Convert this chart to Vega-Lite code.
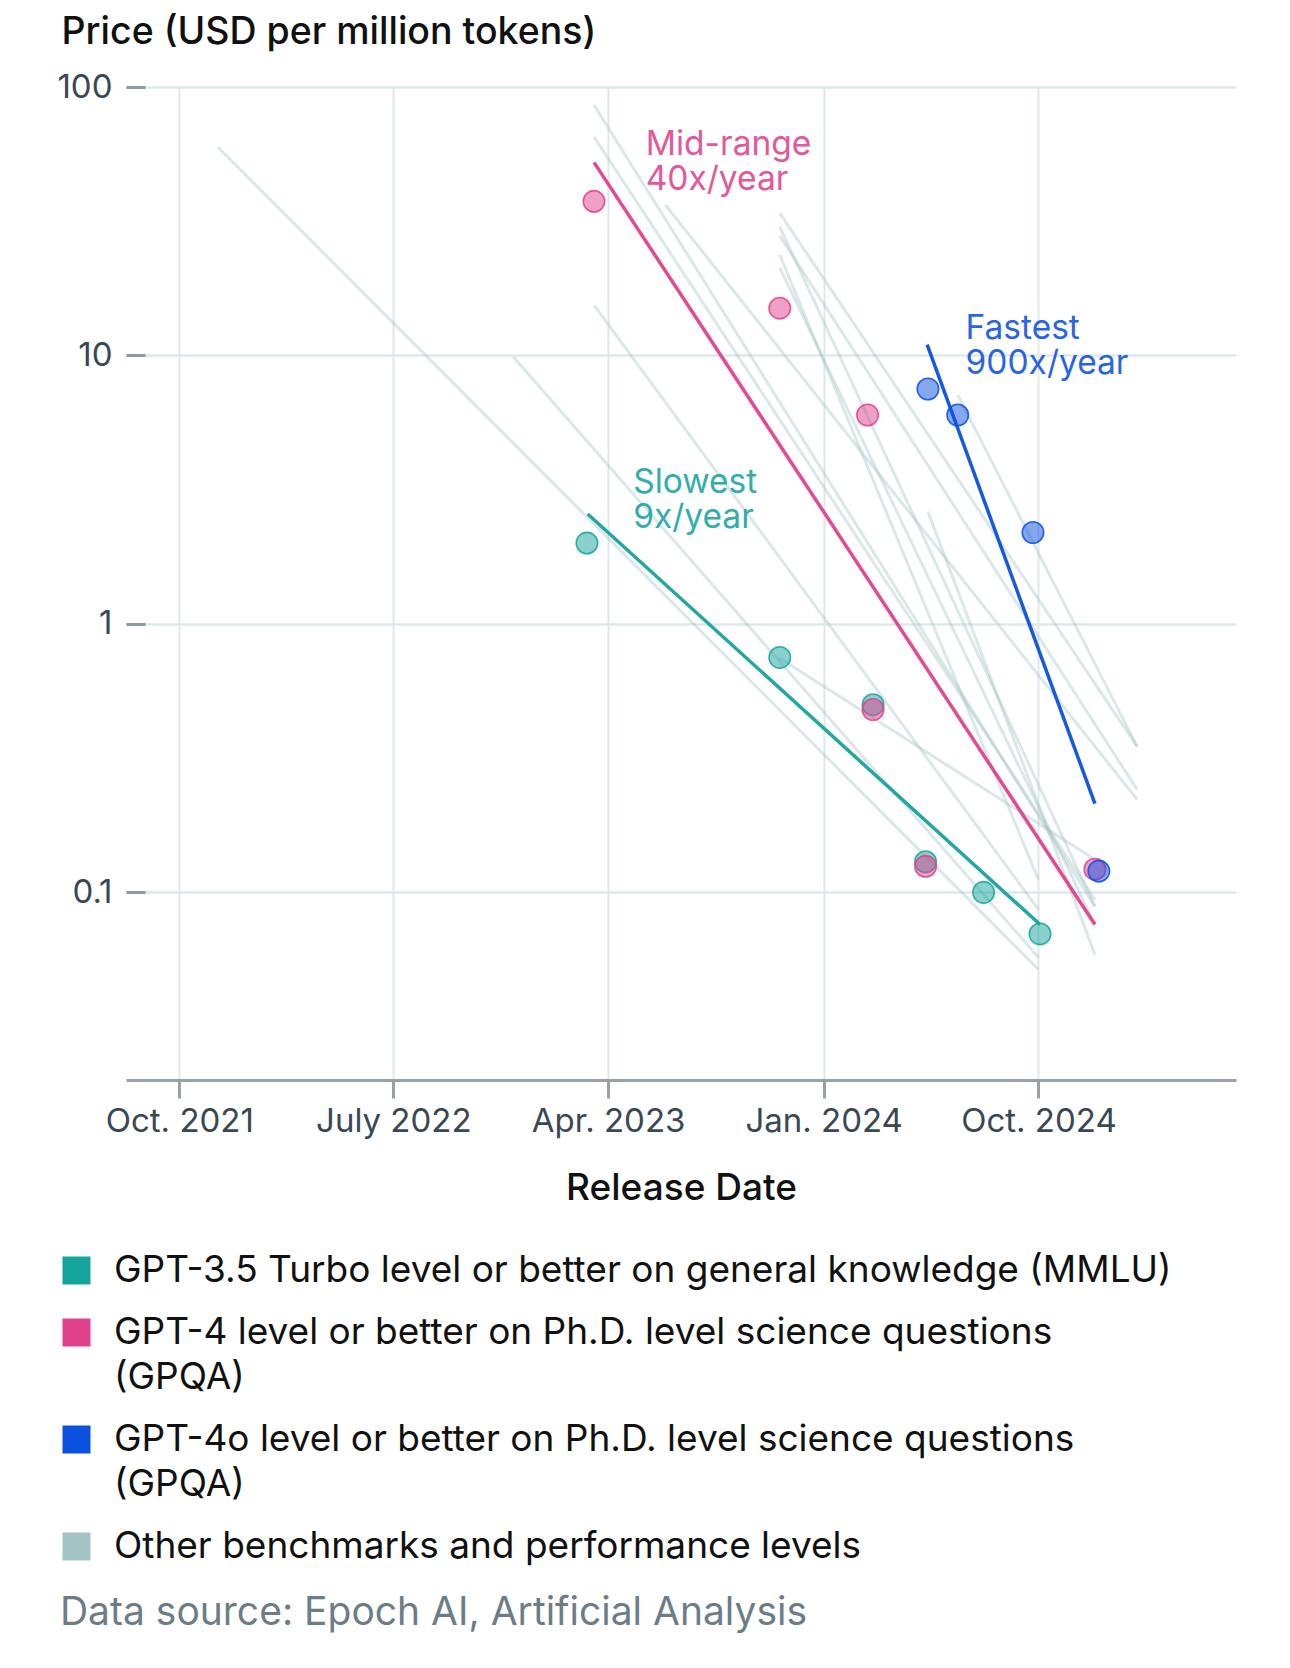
{
  "$schema": "https://vega.github.io/schema/vega-lite/v6.json",
  "width": 1110,
  "height": 993,
  "autosize": {"type": "none"},
  "padding": {"left": 126, "top": 87, "right": 54, "bottom": 588},
  "background": "white",
  "config": {"view": {"stroke": null}, "font": "Inter"},
  "title": {
    "text": "Data source: Epoch AI, Artificial Analysis",
    "orient": "bottom",
    "anchor": "start",
    "frame": "bounds",
    "font": "Inter",
    "fontSize": 39,
    "fontWeight": 400,
    "color": "#6d7d87",
    "offset": 29,
    "dx": 3
  },
  "datasets": {
    "lines": [
      {"id": "g1", "series": "other", "date": "2021-11-19", "price": 59.8},
      {"id": "g1", "series": "other", "date": "2024-10-01", "price": 0.0516},
      {"id": "g2", "series": "other", "date": "2022-12-01", "price": 9.88},
      {"id": "g2", "series": "other", "date": "2024-10-01", "price": 0.0572},
      {"id": "g3", "series": "other", "date": "2023-03-14", "price": 85.7},
      {"id": "g3", "series": "other", "date": "2024-12-12", "price": 0.0886},
      {"id": "g4", "series": "other", "date": "2023-03-14", "price": 65.2},
      {"id": "g4", "series": "other", "date": "2024-12-12", "price": 0.094},
      {"id": "g5", "series": "other", "date": "2023-03-14", "price": 15.4},
      {"id": "g5", "series": "other", "date": "2024-10-01", "price": 0.0863},
      {"id": "g6", "series": "other", "date": "2023-06-13", "price": 36.4},
      {"id": "g6", "series": "other", "date": "2025-02-04", "price": 0.2215},
      {"id": "g7", "series": "other", "date": "2023-11-06", "price": 33.9},
      {"id": "g7", "series": "other", "date": "2025-02-04", "price": 0.349},
      {"id": "g8", "series": "other", "date": "2023-11-06", "price": 27.9},
      {"id": "g8", "series": "other", "date": "2025-02-04", "price": 0.2414},
      {"id": "g9", "series": "other", "date": "2023-11-06", "price": 30.1},
      {"id": "g9", "series": "other", "date": "2024-12-12", "price": 0.0886},
      {"id": "g10", "series": "other", "date": "2023-11-06", "price": 23.7},
      {"id": "g10", "series": "other", "date": "2024-10-01", "price": 0.1116},
      {"id": "g11", "series": "other", "date": "2023-11-06", "price": 21.2},
      {"id": "g11", "series": "other", "date": "2024-12-12", "price": 0.0759},
      {"id": "g12", "series": "other", "date": "2024-05-13", "price": 2.62},
      {"id": "g12", "series": "other", "date": "2024-12-12", "price": 0.0587},
      {"id": "g13", "series": "other", "date": "2024-06-20", "price": 7.13},
      {"id": "g13", "series": "other", "date": "2025-02-04", "price": 0.349},
      {"id": "g14", "series": "other", "date": "2023-11-05", "price": 0.748},
      {"id": "g14", "series": "other", "date": "2024-12-12", "price": 0.1325},
      {"id": "t_mmlu", "series": "mmlu", "date": "2023-03-06", "price": 2.567},
      {"id": "t_mmlu", "series": "mmlu", "date": "2024-10-03", "price": 0.0759},
      {"id": "t_gpt4", "series": "gpt4", "date": "2023-03-14", "price": 52.4},
      {"id": "t_gpt4", "series": "gpt4", "date": "2024-12-12", "price": 0.0759},
      {"id": "t_gpt4o", "series": "gpt4o", "date": "2024-05-12", "price": 10.97},
      {"id": "t_gpt4o", "series": "gpt4o", "date": "2024-12-12", "price": 0.214}
    ],
    "points": [
      {"series": "mmlu", "date": "2023-03-05", "price": 2.0},
      {"series": "mmlu", "date": "2023-11-06", "price": 0.75},
      {"series": "mmlu", "date": "2024-03-04", "price": 0.5},
      {"series": "mmlu", "date": "2024-05-10", "price": 0.13},
      {"series": "mmlu", "date": "2024-07-23", "price": 0.1},
      {"series": "mmlu", "date": "2024-10-03", "price": 0.07},
      {"series": "gpt4", "date": "2023-03-14", "price": 37.5},
      {"series": "gpt4", "date": "2023-11-06", "price": 15.0},
      {"series": "gpt4", "date": "2024-02-26", "price": 6.0},
      {"series": "gpt4", "date": "2024-03-04", "price": 0.48},
      {"series": "gpt4", "date": "2024-05-10", "price": 0.125},
      {"series": "gpt4", "date": "2024-12-12", "price": 0.122},
      {"series": "gpt4o", "date": "2024-05-13", "price": 7.5},
      {"series": "gpt4o", "date": "2024-06-20", "price": 6.0},
      {"series": "gpt4o", "date": "2024-09-24", "price": 2.19},
      {"series": "gpt4o", "date": "2024-12-17", "price": 0.12}
    ],
    "labels": [
      {"series": "gpt4", "date": "2023-05-19", "price": 55.6, "text": "Mid-range"},
      {"series": "gpt4", "date": "2023-05-19", "price": 41.3, "text": "40x/year"},
      {"series": "mmlu", "date": "2023-05-03", "price": 3.07, "text": "Slowest"},
      {"series": "mmlu", "date": "2023-05-03", "price": 2.275, "text": "9x/year"},
      {"series": "gpt4o", "date": "2024-06-30", "price": 11.54, "text": "Fastest"},
      {"series": "gpt4o", "date": "2024-06-30", "price": 8.54, "text": "900x/year"}
    ]
  },
  "encoding": {
    "x": {
      "field": "date",
      "type": "temporal",
      "scale": {
        "type": "utc",
        "domain": [
          {"year": 2021, "month": 7, "date": 25, "utc": true},
          {"year": 2025, "month": 6, "date": 10, "utc": true}
        ]
      },
      "axis": {
        "values": [
          {"year": 2021, "month": 10, "date": 1, "utc": true},
          {"year": 2022, "month": 7, "date": 1, "utc": true},
          {"year": 2023, "month": 4, "date": 1, "utc": true},
          {"year": 2024, "month": 1, "date": 1, "utc": true},
          {"year": 2024, "month": 10, "date": 1, "utc": true}
        ],
        "labelExpr": "['Jan.','Feb.','Mar.','Apr.','May','June','July','Aug.','Sept.','Oct.','Nov.','Dec.'][utcmonth(datum.value)] + ' ' + utcyear(datum.value)",
        "title": "Release Date",
        "titleFont": "Inter",
        "titleFontSize": 37,
        "titleFontWeight": 500,
        "titleColor": "#111111",
        "titleBaseline": "top",
        "titleY": 90,
        "domainColor": "#97a2a8",
        "domainWidth": 3,
        "tickColor": "#97a2a8",
        "tickWidth": 3,
        "tickSize": 18,
        "labelPadding": 7,
        "labelFont": "Inter",
        "labelFontSize": 33,
        "labelColor": "#3a4853",
        "labelFlush": false,
        "labelOverlap": false,
        "gridColor": "#dfe8ea",
        "gridWidth": 2
      }
    },
    "y": {
      "field": "price",
      "type": "quantitative",
      "scale": {"type": "log", "domain": [0.02, 100]},
      "axis": {
        "values": [0.1, 1, 10, 100],
        "format": "~g",
        "title": "Price (USD per million tokens)",
        "titleAngle": 0,
        "titleAlign": "left",
        "titleBaseline": "alphabetic",
        "titleX": -65,
        "titleY": -44,
        "titleFont": "Inter",
        "titleFontSize": 37.5,
        "titleFontWeight": 500,
        "titleColor": "#111111",
        "domain": false,
        "tickSize": -19,
        "tickWidth": 3,
        "tickColor": "#8f9aa0",
        "labelPadding": 33,
        "labelFont": "Inter",
        "labelFontSize": 33,
        "labelColor": "#3a4853",
        "gridColor": "#dfe8ea",
        "gridWidth": 2.5
      }
    },
    "color": {
      "field": "series",
      "type": "nominal",
      "scale": {
        "domain": ["mmlu", "gpt4", "gpt4o", "other"],
        "range": ["#15a39e", "#e0418d", "#0b50df", "#a4c4c6"]
      },
      "legend": {
        "orient": "none",
        "legendX": -68,
        "legendY": 1165,
        "direction": "vertical",
        "title": null,
        "padding": 0,
        "symbolType": "square",
        "symbolSize": 784,
        "symbolStrokeWidth": 0,
        "symbolOpacity": 1,
        "labelFont": "Inter",
        "labelFontSize": 37,
        "labelColor": "#111111",
        "labelLimit": 1250,
        "labelOffset": 19,
        "labelBaseline": "middle",
        "rowPadding": 24,
        "labelExpr": "datum.value == 'mmlu' ? 'GPT-3.5 Turbo level or better on general knowledge (MMLU)' : datum.value == 'gpt4' ? ['GPT-4 level or better on Ph.D. level science questions', '(GPQA)'] : datum.value == 'gpt4o' ? ['GPT-4o level or better on Ph.D. level science questions', '(GPQA)'] : 'Other benchmarks and performance levels'",
        "encode": {
          "symbols": {"update": {"fill": {"scale": "color", "field": "value"}, "fillOpacity": {"value": 1}, "stroke": {"value": "transparent"}}},
          "labels": {"update": {"lineHeight": {"value": 45.5}}}
        }
      }
    }
  },
  "layer": [
    {
      "data": {"name": "lines"},
      "transform": [{"filter": "datum.series == 'other'"}],
      "mark": {"type": "line", "strokeWidth": 3, "opacity": 0.4},
      "encoding": {"detail": {"field": "id"}}
    },
    {
      "data": {"name": "lines"},
      "transform": [{"filter": "datum.series != 'other'"}],
      "mark": {"type": "line", "strokeWidth": 3.5, "opacity": 0.95},
      "encoding": {"detail": {"field": "id"}}
    },
    {
      "data": {"name": "points"},
      "mark": {"type": "point", "shape": "circle", "filled": true, "size": 460, "fillOpacity": 0.5, "strokeOpacity": 0.85, "strokeWidth": 1.6},
      "encoding": {
        "stroke": {
          "field": "series",
          "type": "nominal",
          "scale": {"domain": ["mmlu", "gpt4", "gpt4o", "other"], "range": ["#15a39e", "#e0418d", "#0b50df", "#a4c4c6"]},
          "legend": null
        }
      }
    },
    {
      "data": {"name": "labels"},
      "mark": {"type": "text", "align": "left", "baseline": "alphabetic", "font": "Inter", "fontSize": 33.5, "opacity": 0.88},
      "encoding": {"text": {"field": "text"}}
    }
  ]
}
